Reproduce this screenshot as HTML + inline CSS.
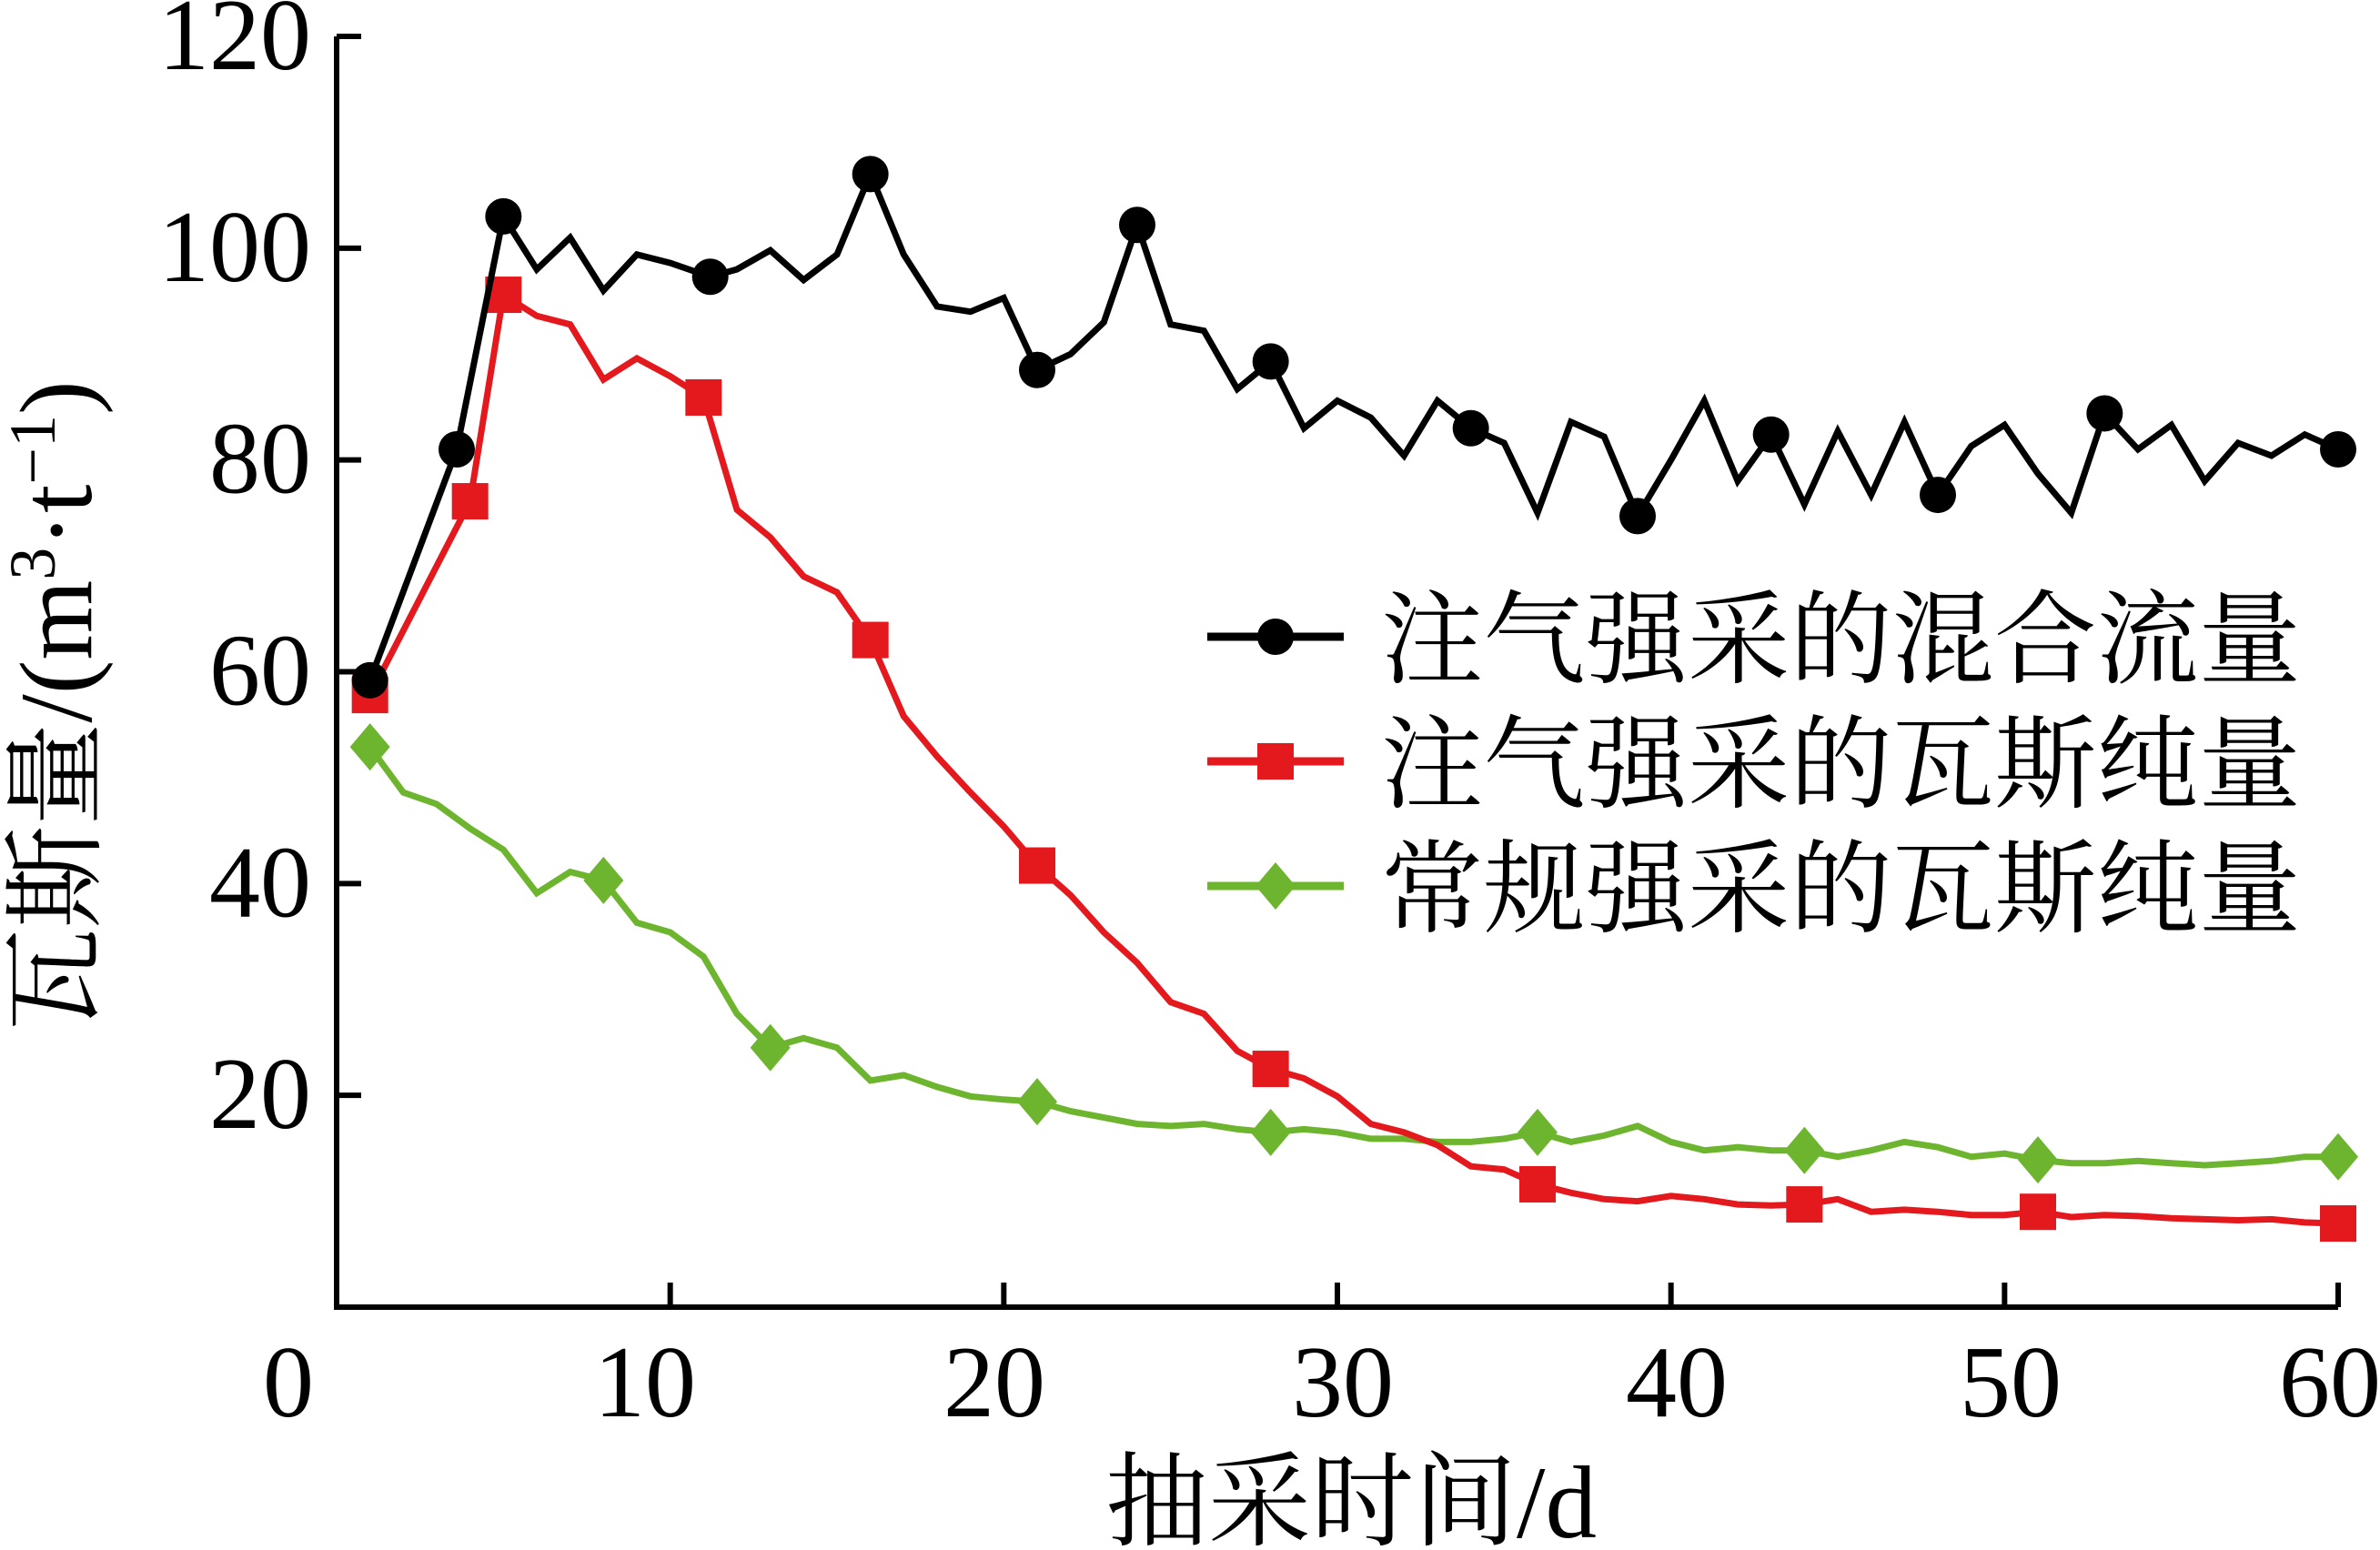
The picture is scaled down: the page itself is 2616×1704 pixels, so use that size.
<!DOCTYPE html>
<html><head><meta charset="utf-8">
<style>
html,body{margin:0;padding:0;background:#fff;}
svg{display:block;}
.tk{font-family:"Liberation Serif","Noto Serif CJK SC",serif;font-size:112px;fill:#000;}
.cj{font-family:"Liberation Serif","Noto Serif CJK SC",serif;fill:#000;}
</style></head>
<body>
<svg id="chart" width="2616" height="1704" viewBox="0 0 2616 1704" xmlns="http://www.w3.org/2000/svg">
<rect width="2616" height="1704" fill="#fff"/>
<g id="axes"></g>
<g id="series"></g>
<text class="cj" transform="translate(100,776) rotate(-90)" text-anchor="middle" font-size="113">瓦斯量/(m<tspan font-size="72" dy="-40">3</tspan><tspan dy="40">·t</tspan><tspan font-size="72" dy="-40">−1</tspan><tspan dy="40">)</tspan></text>
<text class="cj" x="1485" y="1690" text-anchor="middle" font-size="113">抽采时间/d</text>
<g id="legend"></g>
</svg>
<script>
const xTicks=[0,10,20,30,40,50,60];
const yTicks=[20,40,60,80,100,120];
const yTickLabels=["20","40","60","80","100","120"];
const blackDays=[1,3.6,5,6,7,8,9,10,11.2,12,13,14,15,16,17,18,19,20,21,22,23,24,25,26,27,28,29,30,31,32,33,34,35,36,37,38,39,40,41,42,43,44,45,46,47,48,49,50,51,52,53,54,55,56,57,58,59,60];
const blackVals=[59.2,81,103,98,101,96,99.4,98.6,97.3,98,99.8,97,99.4,107,99.4,94.5,94,95.3,88.5,90,93,102.2,92.8,92.2,86.7,89.3,83,85.6,84,80.4,85.6,83,81.6,75,83.6,82.2,74.7,80,85.6,78,82.4,75.8,82.7,76.7,83.6,76.7,81.3,83.3,78.7,75,84.4,81,83.3,78,81.6,80.4,82.4,81];
const blackMarks=[1,3.6,5,11.2,16,21,24,28,34,39,43,48,53,60];
const redDays=[1,4,5,6,7,8,9,10,11,12,13,14,15,16,17,18,19,20,21,22,23,24,25,26,27,28,29,30,31,32,33,34,35,36,37,38,39,40,41,42,43,44,45,46,47,48,49,50,51,52,53,54,55,56,57,58,59,60];
const redVals=[57.8,76.1,95.6,93.6,92.8,87.6,89.6,87.9,85.9,75.3,72.7,69,67.5,63,55.8,52,48.6,45.4,41.7,38.9,35.4,32.5,28.8,27.7,24.2,22.5,21.6,19.9,17.3,16.5,15.3,13.3,13,11.6,10.8,10.2,10,10.5,10.2,9.7,9.6,9.7,10.2,9,9.2,9,8.7,8.7,9,8.5,8.7,8.6,8.4,8.3,8.2,8.3,8.0,7.9];
const redMarks=[1,4,5,11,16,21,28,36,44,51,60];
const greenDays=[1,2,3,4,5,6,7,8,9,10,11,12,13,14,15,16,17,18,19,20,21,22,23,24,25,26,27,28,29,30,31,32,33,34,35,36,37,38,39,40,41,42,43,44,45,46,47,48,49,50,51,52,53,54,55,56,57,58,59,60];
const greenVals=[52.9,48.6,47.5,45.2,43.2,39.1,41.1,40.3,36.3,35.4,33.1,27.7,24.5,25.4,24.5,21.4,21.9,20.8,19.9,19.6,19.4,18.5,17.9,17.3,17.1,17.3,16.8,16.5,16.8,16.5,15.9,15.9,15.6,15.6,15.9,16.5,15.6,16.2,17.1,15.6,14.8,15.1,14.8,14.8,14.2,14.8,15.6,15.1,14.2,14.5,13.9,13.6,13.6,13.8,13.6,13.4,13.6,13.8,14.2,14.2];
const greenMarks=[1,8,13,21,28,36,44,51,60];
const legendLabels=["注气强采的混合流量","注气强采的瓦斯纯量","常规强采的瓦斯纯量"];

const NS="http://www.w3.org/2000/svg";
const X0=370,X1=2570,Y0=1437,Y120=40;
function sx(d){return X0+(d/60)*(X1-X0);}
function sy(v){return Y0-(v/120)*(Y0-Y120);}
function mk(tag,attrs,parent){const e=document.createElementNS(NS,tag);for(const k in attrs)e.setAttribute(k,attrs[k]);parent.appendChild(e);return e;}
const axes=document.getElementById('axes');
let l=mk('path',{d:`M${X0},${Y120} H${X0+27} M${X0},${Y120} V${Y0} H${X1}`,fill:'none',stroke:'#000','stroke-width':6},axes);


const xLabelPos=[317,709,1093,1476,1843,2210,2561];
xTicks.forEach((t,i)=>{
  if(t>0){const tk=mk('line',{x1:sx(t),x2:sx(t),y1:Y0,y2:Y0-27,stroke:'#000','stroke-width':6},axes);
  
  }
  const tx=mk('text',{x:xLabelPos[i],y:1557,'text-anchor':'middle',class:'tk'},axes);
  tx.textContent=String(t);
  
  
});
yTicks.forEach((t,i)=>{
  const tk=mk('line',{x1:X0,x2:X0+27,y1:sy(t),y2:sy(t),stroke:'#000','stroke-width':6},axes);
  
  
  const tx=mk('text',{x:342,y:sy(t)+36,'text-anchor':'end',class:'tk'},axes);
  tx.textContent=yTickLabels[i];
  
  
});
const ser=document.getElementById('series');
function marker(type,cx,cy,color,parent){
  let e;
  if(type==='circle')e=mk('circle',{cx:cx,cy:cy,r:20,fill:color},parent);
  else if(type==='square')e=mk('rect',{x:cx-20,y:cy-20,width:40,height:40,fill:color},parent);
  else e=mk('polygon',{points:`${cx},${cy-26} ${cx+22},${cy} ${cx},${cy+26} ${cx-22},${cy}`,fill:color},parent);
  return e;
}
function series(days,vals,marks,color,type,name){
  const g=mk('g',{},ser);
  
  
  const pts=days.map((d,i)=>sx(d).toFixed(1)+','+sy(vals[i]).toFixed(1)).join(' ');
  const pl=mk('polyline',{points:pts,fill:'none',stroke:color,'stroke-width':7,'stroke-linejoin':'miter'},g);
  
  
  marks.forEach(m=>{const i=days.indexOf(m);if(i<0)return;
    const e=marker(type,sx(m),sy(vals[i]),color,g);
    
    });
}
series(greenDays,greenVals,greenMarks,'#6db52e','diamond','conventional-pure-series');
series(redDays,redVals,redMarks,'#e3191e','square','injection-pure-series');
series(blackDays,blackVals,blackMarks,'#000','circle','injection-mixed-series');
const lg=document.getElementById('legend');
const lColors=['#000','#e3191e','#6db52e'],lTypes=['circle','square','diamond'],lY=[700,837,974];
legendLabels.forEach((lab,i)=>{
  const g=mk('g',{},lg);
  
  
  mk('line',{x1:1327,x2:1477,y1:lY[i],y2:lY[i],stroke:lColors[i],'stroke-width':9},g);
  marker(lTypes[i],1402,lY[i],lColors[i],g);
  const t=mk('text',{x:1518,y:lY[i]+42,class:'cj','font-size':112,textLength:1011,lengthAdjust:'spacingAndGlyphs'},g);
  t.textContent=lab;
});
</script>
</body></html>
